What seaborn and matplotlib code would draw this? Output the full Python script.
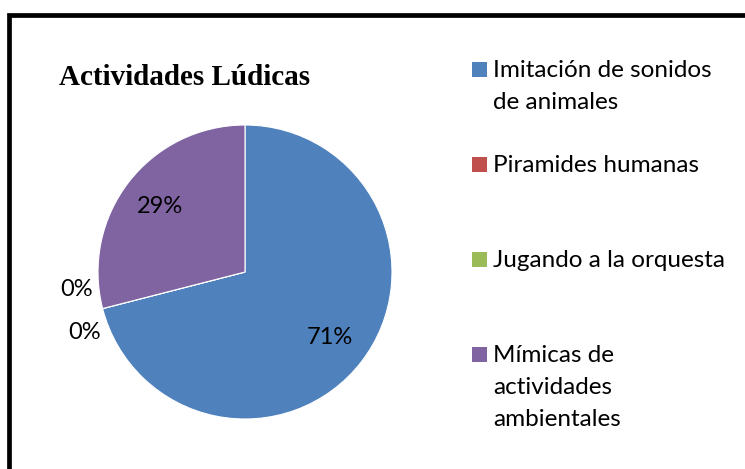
import numpy as np
import matplotlib.pyplot as plt
import matplotlib.patches as mpatches
import seaborn as sns

# data
categories = [
    "Imitación de sonidos\nde animales",
    "Piramides humanas",
    "Jugando a la orquesta",
    "Mímicas de\nactividades\nambientales",
]
values = [71, 0, 0, 29]
colors = ["#4F81BD", "#C0504D", "#9BBB59", "#8064A2"]
title = "Actividades Lúdicas"

W, H = 745, 469
sns.set_theme(style="white")
plt.rcParams["font.family"] = ["Lato", "DejaVu Sans"]

fig = plt.figure(figsize=(W / 100, H / 100), dpi=100)
fig.patch.set_facecolor("white")


def fx(px):
    return px / W


def fy(py):
    return 1 - py / H


# pie axes: centre (245, 272) px, radius 147 px
cx, cy, r = 245, 272, 147
ax = fig.add_axes([fx(cx - r), fy(cy + r), 2 * r / W, 2 * r / H])
wedges, _ = ax.pie(
    values,
    colors=colors,
    startangle=90,
    counterclock=False,
    wedgeprops=dict(edgecolor="white", linewidth=0.8),
)
ax.set_xlim(-1, 1)
ax.set_ylim(-1, 1)
ax.set_aspect("equal")
ax.axis("off")

# data labels
total = sum(values)
zero_shift = [(-0.05, 0.16), (0.0, -0.13)]
zi = 0
for w, v in zip(wedges, values):
    pct = 100 * v / total
    mid = np.deg2rad((w.theta1 + w.theta2) / 2)
    if v > 0:
        x, y = 0.73 * np.cos(mid), 0.73 * np.sin(mid)
    else:
        dx, dy = zero_shift[zi]
        x = 1.13 * np.cos(mid) + dx
        y = 1.13 * np.sin(mid) + dy
        zi += 1
    ax.text(x, y, f"{pct:.0f}%", ha="center", va="center",
            fontsize=17, color="black", clip_on=False)

# title
fig.text(fx(59), fy(85), title, fontsize=21, fontweight="bold", color="black",
         family="Liberation Serif", va="baseline", ha="left")

# legend, Excel style: equal slots, text top-aligned
for i, (lab, c) in enumerate(zip(categories, colors)):
    base = 77 + 95 * i
    fig.patches.append(mpatches.Rectangle(
        (fx(472), fy(base)), 15 / W, 15 / H, transform=fig.transFigure,
        facecolor=c, edgecolor="none"))
    for j, line in enumerate(lab.split("\n")):
        fig.text(fx(493), fy(base + 32 * j), line, fontsize=17.5, color="black",
                 va="baseline", ha="left")

# thick frame (cut at right/bottom as in the reference)
fig.patches.append(mpatches.Rectangle(
    (fx(8.5), -0.2), 1.3, fy(15) + 0.2, transform=fig.transFigure,
    fill=False, edgecolor="black", linewidth=3.4))

fig.savefig("out.png", dpi=100)
